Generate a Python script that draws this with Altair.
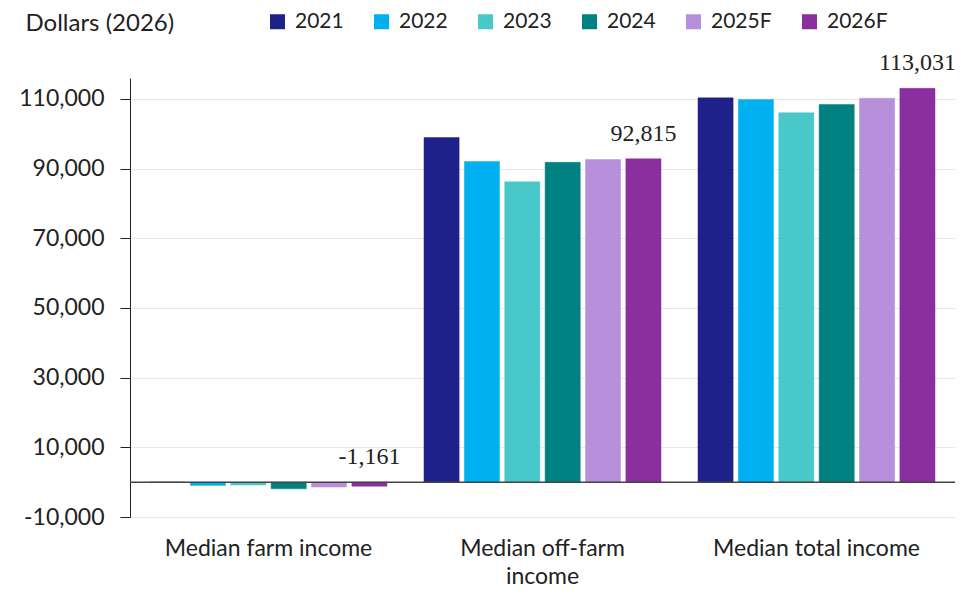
import altair as alt
import pandas as pd

categories = ["Median farm income", "Median off-farm income", "Median total income"]
years = ["2021", "2022", "2023", "2024", "2025F", "2026F"]
colors = ["#1F218A", "#00B0F0", "#48C8C8", "#008080", "#B88FDB", "#8A2EA0"]

farm = [-50, -950, -850, -1900, -1400, -1161]
off_farm = [98900, 92000, 86200, 91800, 92600, 92815]
total = [110300, 109800, 106000, 108400, 110200, 113031]

rows = []
for cat, vals in zip(categories, [farm, off_farm, total]):
    for y, v in zip(years, vals):
        rows.append({"category": cat, "year": y, "value": v,
                     "label": f"{v:,}" if y == "2026F" else ""})
df = pd.DataFrame(rows)

FONT = "Lato"
FS = 23

x_enc = alt.X("category:N", sort=categories, title=None,
              scale=alt.Scale(paddingInner=0.135, paddingOuter=0.073),
              axis=alt.Axis(labelAngle=0, domain=False, ticks=False, labelFont=FONT,
                            labelFontSize=23, labelColor="#222", labelPadding=20,
                            labelLineHeight=28, labelLimit=400,
                            labelExpr="datum.value == 'Median off-farm income' ? ['Median off-farm', 'income'] : datum.value"))
xoff = alt.XOffset("year:N", sort=years,
                   scale=alt.Scale(domain=years, paddingInner=0.13, paddingOuter=0))

bars = alt.Chart(df).mark_bar(strokeWidth=0.8, strokeOpacity=0.6).encode(
    x=x_enc,
    xOffset=xoff,
    y=alt.Y("value:Q", title="Dollars (2026)",
            scale=alt.Scale(domain=[-10000, 116000], nice=False, zero=False),
            axis=alt.Axis(values=[-10000, 10000, 30000, 50000, 70000, 90000, 110000],
                          labelExpr="replace(format(datum.value, ',.0f'), '\u2212', '-')",
                          labelFont=FONT, labelFontSize=FS, labelColor="#222",
                          tickSize=10, tickColor="#222", domainColor="#222",
                          labelPadding=16, gridColor="#e8e8e8",
                          titleAngle=0, titleAlign="left", titleBaseline="middle",
                          titleX=-105, titleY=-55, titleFont=FONT, titleFontSize=24,
                          titleFontWeight="normal", titleColor="#222")),
    color=alt.Color("year:N", sort=years,
                    scale=alt.Scale(domain=years, range=colors),
                    legend=alt.Legend(title=None, orient="none", direction="horizontal",
                                      legendX=137, legendY=-67, symbolType="square",
                                      symbolSize=225, symbolStrokeWidth=0,
                                      labelFont=FONT, labelFontSize=21, labelColor="#222",
                                      labelOffset=7, columnPadding=27)),
    stroke=alt.Color("year:N", sort=years, scale=alt.Scale(domain=years, range=colors), legend=None),
)

zero = alt.Chart(pd.DataFrame({"z": [0]})).mark_rule(color="#444", strokeWidth=1.5).encode(
    y=alt.Y("z:Q"))

labels = alt.Chart(df).transform_filter("datum.label != ''").transform_calculate(
    ly="max(datum.value, 0)"
).mark_text(baseline="bottom", dy=-13, font="Liberation Serif", fontSize=24, color="#222").encode(
    x=alt.X("category:N", sort=categories),
    xOffset=xoff,
    y=alt.Y("ly:Q"),
    text="label:N",
)

chart = alt.layer(bars, zero, labels).properties(
    width=825, height=439,
    autosize=alt.AutoSizeParams(type="none"),
    padding={"left": 122, "top": 70, "right": 1, "bottom": 71},
).configure_view(stroke=None).configure_axisY(grid=True).configure_axisX(grid=False)

chart.save("out.html", embed_options={"renderer": "svg", "actions": False})
